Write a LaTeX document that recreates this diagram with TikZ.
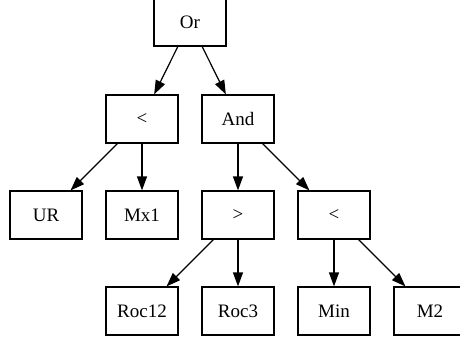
\documentclass[tikz,border=0pt]{standalone}
\usepackage{fontspec}
\setmainfont{Liberation Serif}
\usetikzlibrary{arrows.meta}
\begin{document}
\begin{tikzpicture}[x=1pt,y=-1pt,
  box/.style={draw,line width=1.2pt,minimum width=72pt,minimum height=48pt,inner sep=0pt,font=\fontsize{19}{20}\selectfont},
  arr/.style={line width=1.2pt,-{Triangle[length=14pt,width=10pt]}}]
\useasboundingbox (0,0) rectangle (460,341);
\clip (0,0) rectangle (460,341);
\node[box] (or) at (190,22) {Or};
\node[box] (lt1) at (142,119) {<};
\node[box] (and) at (238,119) {And};
\node[box] (ur) at (46,215) {UR};
\node[box] (mx1) at (142,215) {Mx1};
\node[box] (gt) at (238,215) {>};
\node[box] (lt2) at (334,215) {<};
\node[box] (roc12) at (142,311) {Roc12};
\node[box] (roc3) at (238,311) {Roc3};
\node[box] (min) at (334,311) {Min};
\node[box] (m2) at (430,311) {M2};
\draw[arr] (or) -- (lt1);
\draw[arr] (or) -- (and);
\draw[arr] (lt1) -- (ur);
\draw[arr] (lt1) -- (mx1);
\draw[arr] (and) -- (gt);
\draw[arr] (and) -- (lt2);
\draw[arr] (gt) -- (roc12);
\draw[arr] (gt) -- (roc3);
\draw[arr] (lt2) -- (min);
\draw[arr] (lt2) -- (m2);
\end{tikzpicture}
\end{document}
